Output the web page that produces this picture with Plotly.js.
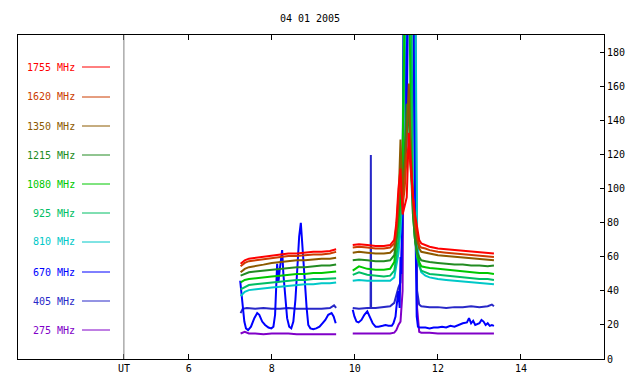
<!DOCTYPE html>
<html><head><meta charset="utf-8">
<script src="https://cdn.plot.ly/plotly-3.0.1.min.js"></script>
<style>html,body{margin:0;padding:0;background:#fff}#chart{width:640px;height:384px}</style>
</head><body><div id="chart"></div>
<script>
// Shared time axis (UT hours) for the smoother channels; null = data gap
const timeMain = [7.25,7.35,7.45,7.6,7.8,8.0,8.2,8.4,8.6,8.8,9.0,9.2,9.4,9.55,null,
  9.95,10.1,10.3,10.5,10.7,10.85,10.95,11.0,11.05,11.1,11.15,11.2,11.25,11.3,11.35,11.4,11.45,11.5,11.55,11.6,
  11.7,11.8,12.0,12.2,12.4,12.6,12.8,13.0,13.2,13.35];

const f1755 = [56,58,59,59.5,60,61,61.5,62,62,62.5,63,63,63.5,64.5,null,
  67,67.5,67,66.5,66.5,67,70, 80,100,112,85,90,95,133,110,95,85,76,70,68, 67,66,65,64.5,64,63.5,63,62.5,62,62];
const f1620 = [54.5,56.5,57.5,58,58.5,59.5,60,60.5,60.5,61,61.5,61.5,62,63,null,
  65.5,66,65.5,65,65,65.5,68, 78,95,105,90,100,120,125,110,95,80,73,67,65.5, 65,64,63,62.5,62,61.5,61,60.5,60,60];
const f1350 = [51,53,54,54.5,55.5,56.5,57,57.5,58,58,58.5,59,59,59.5,null,
  62.5,63,62.5,62,62,62.5,65, 75,90,129,95,110,130,162,120,95,78,70,65,63, 62.5,62,61,60.5,60,59.5,59,58.5,58,58];
const f1215 = [49,50,51,51.5,52,52.5,53,53.5,54,54,54.5,55,55,55.5,null,
  58,58.5,58,57.5,57.5,58,61, 70,85,100,95,120,150,140,110,85,70,63,60,58, 57.5,57,56.5,56,55.5,55.5,55,55,54.5,55];
const f1080 = [45,46.5,47,47.5,48,48.5,49,49.5,50,50,50.5,50.5,51,51.5,null,
  52,54.5,53,52.5,52.5,53,57, 68,80,95,120,200,250,250,130,85,70,62,57,54.5, 54,53.5,53,52.5,52,51.5,51,50.5,50.5,50];
const f925 = [41,42.5,43.5,44,44.5,45,45.5,46,46.5,46.5,47,47,47.5,47.5,null,
  49.5,51,49.5,49,48.5,49,52, 60,70,85,110,250,250,250,250,90,70,60,55,52, 51,50,49.5,49,48.5,48,47.5,47,47,46.5];
const f810 = [37,39.5,40.5,41,41.5,42,42.5,43,43.5,44,44,44.5,44.5,45,null,
  46,46.5,46,46,46,46,48, 55,62,75,100,180,250,250,250,250,250,75,55,51, 49,48,47,46.5,46,45.5,45,44.5,44,44];
const f275 = [15,16,15,15,14.5,15,15,15,14.5,14.5,14.5,14.5,14.5,14.5,null,
  15,15,15,15,15,15,15.5, 17,20,22,40,250,250,250,250,250,250,30,16,15.5, 15.5,15.5,15,15,15,15,15,15,15,15];

// 405 MHz has its own time axis (narrow spike near 10.39 UT)
const time405 = [7.25,7.3,7.4,7.6,7.8,8.0,8.2,8.4,8.6,8.8,9.0,9.2,9.4,9.5,9.55,null,
  9.95,10.1,10.3,10.38,10.386,10.392,10.5,10.7,10.85,10.95,11.0,11.05,11.1,11.15,11.2,11.25,11.3,11.35,11.4,11.45,
  11.5,11.55,11.6,11.8,12.0,12.2,12.4,12.6,12.8,13.0,13.2,13.3,13.35];
const f405 = [27,29.5,30,29.5,30,29.5,29.5,30,29.5,29.5,29.5,29.5,30,31.5,30,null,
  30,29.5,30,30,120,30,30,30.5,31,33,38,42,45,80,250,250,250,250,250,150,
  40,32,31,30.5,30.5,30,30.5,30.5,31,30.5,31,32,31];

// 670 MHz has a finer time axis (strong oscillations)
const time670 = [7.24,7.29,7.34,7.38,7.43,7.5,7.58,7.65,7.7,7.77,7.84,7.92,7.99,8.04,8.08,8.13,8.16,8.19,8.22,8.25,
  8.28,8.33,8.37,8.42,8.47,8.52,8.57,8.62,8.66,8.7,8.74,8.79,8.84,8.88,8.93,9.0,9.07,9.15,9.22,9.29,9.36,9.44,9.49,9.54,null,
  9.95,9.99,10.04,10.09,10.16,10.23,10.3,10.35,10.43,10.5,10.57,10.67,10.74,10.81,10.89,10.93,10.98,11.0,11.05,11.08,
  11.1,11.12,11.15,11.18,11.22,11.24,11.26,11.3,11.35,11.4,11.43,11.45,11.47,11.49,11.52,11.55,11.6,11.7,11.8,11.9,
  12.0,12.1,12.2,12.3,12.4,12.5,12.6,12.7,12.75,12.8,12.85,12.9,13.0,13.05,13.1,13.15,13.2,13.25,13.3,13.35];
const f670 = [46,35,22,18,17,19,24,27,26,22,20,18.5,18,19,26,56,45,52,60,64,
  50,35,24,19,18,22,35,55,72,80,68,48,30,20,18,17.5,18,19,21,23,26,27,25,21,null,
  29,25,22,21.5,23,26,28,25,21,19,19,19.5,20,19.5,19.5,21,25,30,40,30,
  60,50,100,250,250,115,250,250,250,250,133,100,60,25,19,18.5,18.5,18.5,18,18.5,
  18.5,19,18.5,19.5,19,20,21,21.5,24,21,22.5,20,21,23,22,20,21,19.5,20,19.5];

const channels = ['1755 MHz','1620 MHz','1350 MHz','1215 MHz','1080 MHz','925 MHz','810 MHz','670 MHz','405 MHz','275 MHz'];
const colors = ['#ff0000','#cc3c00','#8c5a00','#228b22','#00c800','#00be64','#00c8c8','#0000ff','#2828c8','#8000c8'];
const seriesX = [timeMain,timeMain,timeMain,timeMain,timeMain,timeMain,timeMain,time670,time405,timeMain];
const seriesY = [f1755,f1620,f1350,f1215,f1080,f925,f810,f670,f405,f275];
const title = '04 01 2005';
const xTicks = [6,8,10,12,14];
const yTicks = [0,20,40,60,80,100,120,140,160,180];
const UT_X = 4.44;

const M = {l:18, r:36, t:35, b:25, W:640, H:384};
const pw = M.W - M.l - M.r, ph = M.H - M.t - M.b;
const px2paperX = p => (p - M.l) / pw;
const px2paperY = p => (M.H - M.b - p) / ph;
const font = 'DejaVu Sans Mono, monospace';

const traces = [];
for (let i = channels.length - 1; i >= 0; i--) {
  traces.push({x: seriesX[i], y: seriesY[i], type: 'scatter', mode: 'lines', name: channels[i],
    line: {color: colors[i], width: 2}, connectgaps: false, hoverinfo: 'skip'});
}

const legendY = [67,97,126,155,184,213,242,272,301,330];
const annotations = [], shapes = [];
channels.forEach((c, i) => {
  annotations.push({xref: 'paper', yref: 'paper', x: px2paperX(77), y: px2paperY(legendY[i]),
    xanchor: 'right', yanchor: 'middle', text: c, showarrow: false,
    font: {family: font, size: 10, color: colors[i]}});
  shapes.push({type: 'line', xref: 'paper', yref: 'paper', x0: px2paperX(82), x1: px2paperX(110),
    y0: px2paperY(legendY[i]), y1: px2paperY(legendY[i]), line: {color: colors[i], width: 1}});
});
shapes.push({type: 'line', xref: 'x', yref: 'paper', x0: UT_X, x1: UT_X, y0: 0, y1: 1,
  line: {color: '#808080', width: 1}});

const layout = {
  width: 640, height: 384, paper_bgcolor: '#fff', plot_bgcolor: '#fff',
  margin: {l: M.l, r: M.r, t: M.t, b: M.b, pad: 0},
  showlegend: false,
  title: {text: title, font: {family: font, size: 10, color: '#000'}, xref: 'container', yref: 'container',
    x: 310/640, y: 1 - 18/384, xanchor: 'center', yanchor: 'middle'},
  xaxis: {range: [1.89, 16.0], tickvals: [UT_X].concat(xTicks), ticktext: ['UT'].concat(xTicks.map(String)),
    ticks: 'inside', ticklen: 5, tickcolor: '#000', showline: true, linecolor: '#000', linewidth: 1,
    mirror: 'ticks', showgrid: false, zeroline: false, tickfont: {family: font, size: 10, color: '#000'}},
  yaxis: {range: [0, 190.5], side: 'right', tickvals: yTicks, ticks: 'inside', ticklen: 4, tickcolor: '#000',
    showline: true, linecolor: '#000', linewidth: 1, mirror: true, showgrid: false, zeroline: false,
    tickfont: {family: font, size: 10, color: '#000'}},
  annotations: annotations, shapes: shapes
};
Plotly.newPlot('chart', traces, layout, {staticPlot: true, displayModeBar: false});
</script></body></html>
